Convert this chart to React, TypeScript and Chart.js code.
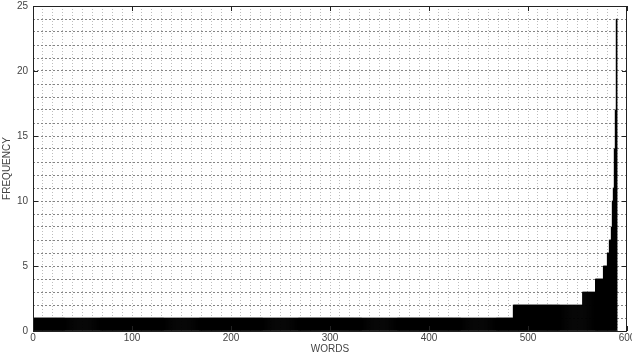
import React, { useEffect, useRef } from "react";
import { Chart, registerables } from "chart.js";

Chart.register(...registerables);

// Frequency levels (y) and how many words have each frequency
const freqLevels = [1, 2, 3, 4, 5, 6, 7, 8, 10, 11, 14, 17, 24];
const wordCounts = [485, 70, 13, 8, 4, 2, 2, 1, 1, 1, 1, 1, 1];

const xTickLabels = [0, 100, 200, 300, 400, 500, 600];
const yTickLabels = [0, 5, 10, 15, 20, 25];

const xTitle = "WORDS";
const yTitle = "FREQUENCY";

function buildBars() {
  const pts: { x: number; y: number }[] = [];
  let idx = 0;
  freqLevels.forEach((f, k) => {
    for (let j = 0; j < wordCounts[k]; j++) {
      idx += 1;
      pts.push({ x: idx - 0.5, y: f });
    }
  });
  return pts;
}

const FONT = "'Liberation Sans', Arial, sans-serif";

const framePlugin = {
  id: "frame",
  afterDraw(chart: any) {
    const { ctx, chartArea } = chart;
    const xs = chart.scales.x;
    const ys = chart.scales.y;
    const L = chartArea.left, R = chartArea.right, T = chartArea.top, B = chartArea.bottom;
    ctx.save();
    ctx.strokeStyle = "#222";
    ctx.lineWidth = 1;
    ctx.setLineDash([]);
    ctx.strokeRect(Math.round(L) + 0.5, Math.round(T) + 0.5, Math.round(R - L) - 1, Math.round(B - T));
    const tl = 5;
    ctx.beginPath();
    yTickLabels.forEach((v) => {
      const y = Math.round(ys.getPixelForValue(v)) + 0.5;
      ctx.moveTo(L, y); ctx.lineTo(L + tl, y);
      ctx.moveTo(R, y); ctx.lineTo(R - tl, y);
    });
    xTickLabels.forEach((v) => {
      const x = Math.round(xs.getPixelForValue(v)) + 0.5;
      ctx.moveTo(x, B); ctx.lineTo(x, B - tl);
      ctx.moveTo(x, T); ctx.lineTo(x, T + tl);
    });
    ctx.stroke();
    ctx.restore();
  },
};

export default function App() {
  const ref = useRef<HTMLCanvasElement | null>(null);
  useEffect(() => {
    if (!ref.current) return;
    const chart = new Chart(ref.current, {
      type: "bar",
      data: {
        datasets: [
          {
            data: buildBars() as any,
            backgroundColor: "#000000",
            borderWidth: 0,
            barPercentage: 1,
            categoryPercentage: 1,
          },
        ],
      },
      options: {
        animation: false,
        responsive: false,
        events: [],
        layout: { padding: { top: 6, right: 5, left: 0, bottom: 0 } },
        plugins: { legend: { display: false }, tooltip: { enabled: false } },
        scales: {
          x: {
            type: "linear",
            min: 0,
            max: 600,
            offset: false,
            afterBuildTicks: (s: any) => {
              const t = [];
              for (let v = 0; v <= 600; v += 10) t.push({ value: v });
              s.ticks = t;
            },
            afterFit: (s: any) => {
              s.height = 24;
              s.paddingLeft = 0;
              s.paddingRight = 0;
            },
            ticks: {
              autoSkip: false,
              maxRotation: 0,
              padding: 1,
              color: "#444",
              font: { family: FONT, size: 10 },
              callback: (v: any) => (xTickLabels.includes(Number(v)) ? String(v) : ""),
            },
            grid: {
              offset: false,
              drawTicks: false,
              color: (c: any) => (c.tick && (c.tick.value === 0 || c.tick.value === 600) ? "transparent" : "#bdbdbd"),
              lineWidth: 1,
            },
            border: { display: false, dash: [1, 2] },
            title: {
              display: true,
              text: xTitle,
              color: "#444",
              font: { family: FONT, size: 10 },
              padding: { top: 0, bottom: 0 },
            },
          },
          y: {
            type: "linear",
            min: 0,
            max: 25,
            afterBuildTicks: (s: any) => {
              const t = [];
              for (let v = 0; v <= 25; v += 1) t.push({ value: v });
              s.ticks = t;
            },
            afterFit: (s: any) => {
              s.width = 33;
              s.paddingTop = 0;
              s.paddingBottom = 0;
            },
            ticks: {
              autoSkip: false,
              padding: 5,
              color: "#444",
              font: { family: FONT, size: 10 },
              callback: (v: any) => (yTickLabels.includes(Number(v)) ? String(v) : ""),
            },
            grid: {
              drawTicks: false,
              color: (c: any) => (c.tick && (c.tick.value === 0 || c.tick.value === 25) ? "transparent" : "#858585"),
              lineWidth: 1,
            },
            border: { display: false, dash: [2, 2] },
            title: {
              display: true,
              text: yTitle,
              color: "#444",
              font: { family: FONT, size: 10 },
              padding: { top: 1, bottom: 0 },
            },
          },
        },
      },
      plugins: [framePlugin],
    });
    return () => chart.destroy();
  }, []);
  return (
    <div style={{ position: "fixed", left: 0, top: 0, width: 632, height: 355, background: "#fff" }}>
      <canvas ref={ref} width={632} height={355} style={{ display: "block" }} />
    </div>
  );
}
